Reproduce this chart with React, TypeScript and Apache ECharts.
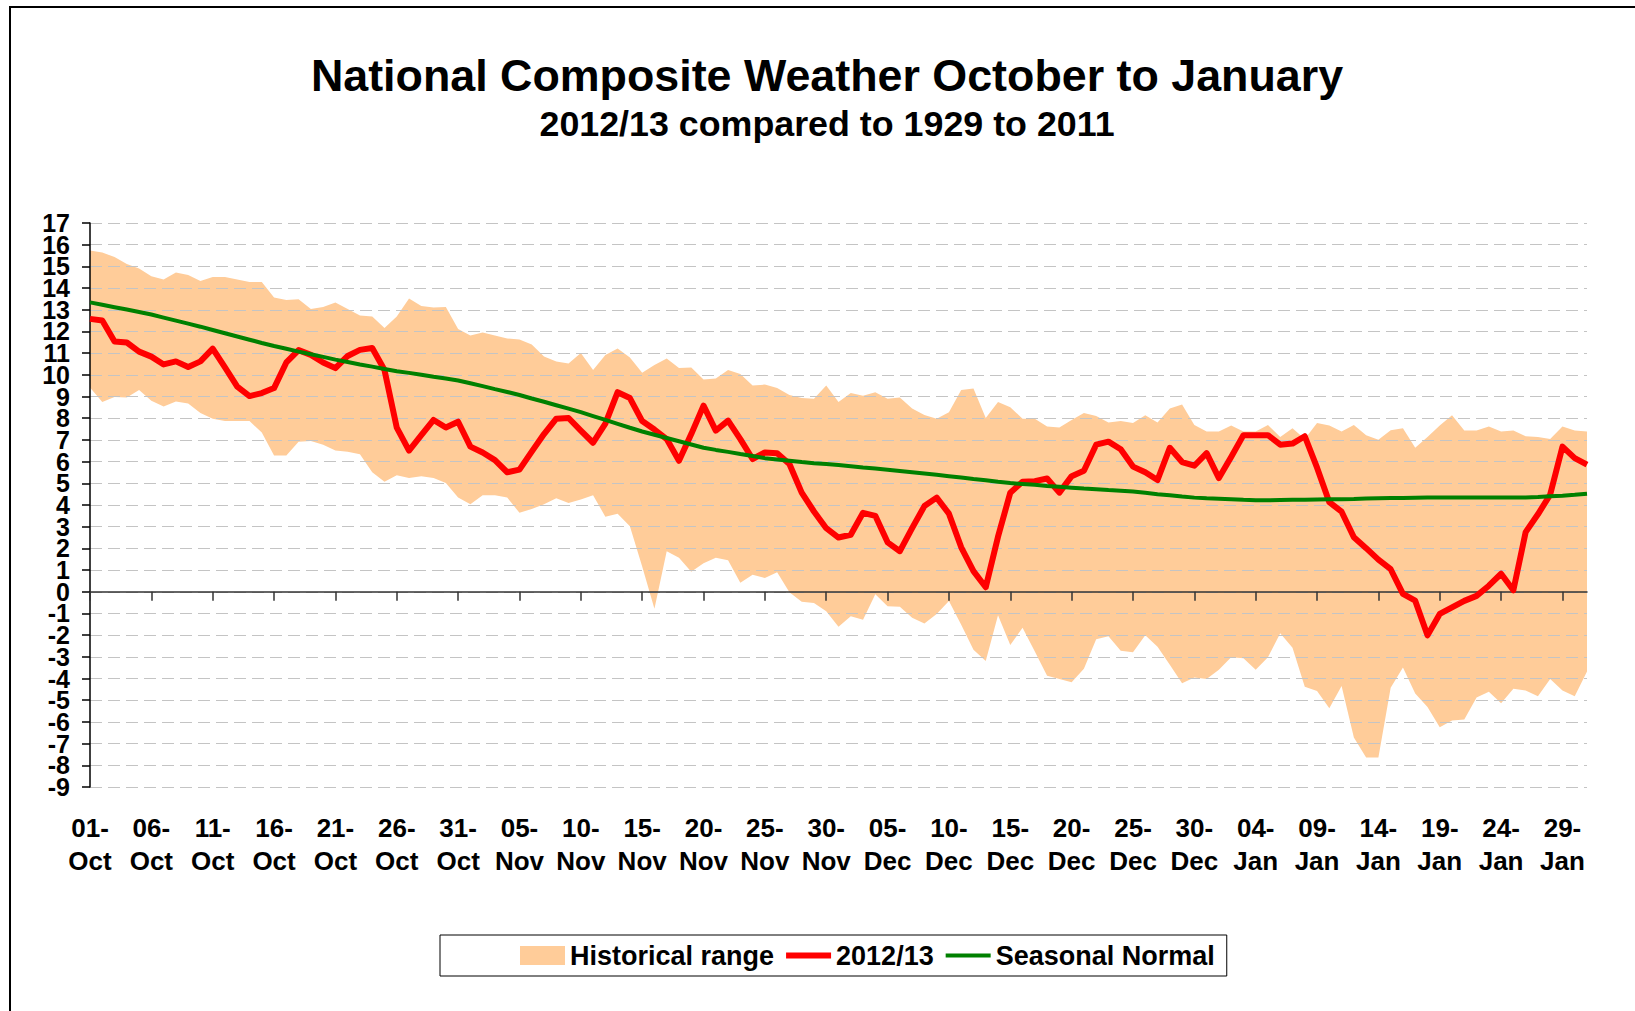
import React, { useEffect, useRef } from 'react';
import * as echarts from 'echarts';

// Category labels: every day from 01-Oct to 31-Jan
const months: [string, number][] = [['Oct', 31], ['Nov', 30], ['Dec', 31], ['Jan', 31]];
const categories: string[] = [];
months.forEach(([m, n]) => {
  for (let d = 1; d <= n; d++) categories.push(`${String(d).padStart(2, '0')}-${m}`);
});

// Y axis range
const yMin = -9;
const yMax = 17;

// Historical range (upper and lower envelope, 1929 to 2011)
const histUpper = [
  15.73, 15.64, 15.43, 15.11, 14.9, 14.54, 14.4, 14.72, 14.6, 14.33,
  14.51, 14.51, 14.4, 14.28, 14.28, 13.57, 13.45, 13.48, 13.04, 13.13,
  13.34, 13.04, 12.74, 12.69, 12.16, 12.69, 13.52, 13.17, 13.1, 13.13,
  12.11, 11.81, 11.95, 11.81, 11.68, 11.63, 11.4, 10.84, 10.62, 10.52,
  11.01, 10.22, 10.92, 11.22, 10.8, 10.1, 10.45, 10.75, 10.31, 10.34,
  9.78, 9.83, 10.22, 10.04, 9.51, 9.55, 9.39, 9.07, 8.93, 8.9,
  9.51, 8.75, 9.16, 9.04, 9.2, 8.9, 8.95, 8.45, 8.15, 7.98,
  8.28, 9.3, 9.37, 8.01, 8.75, 8.51, 7.98, 7.98, 7.62, 7.57,
  7.92, 8.24, 8.1, 7.8, 7.87, 7.78, 8.14, 7.8, 8.45, 8.63,
  7.69, 7.39, 7.39, 7.66, 7.39, 7.39, 7.69, 7.13, 7.54, 7.04,
  7.78, 7.66, 7.39, 7.69, 7.22, 7.01, 7.45, 7.54, 6.64, 7.13,
  7.66, 8.14, 7.43, 7.43, 7.62, 7.39, 7.43, 7.17, 7.13, 7.04,
  7.62, 7.43, 7.39,
];

const histLower = [
  9.42, 8.75, 8.98, 8.95, 9.3, 8.81, 8.54, 8.77, 8.68, 8.24,
  7.98, 7.87, 7.87, 7.87, 7.34, 6.28, 6.28, 6.92, 6.95, 6.78,
  6.51, 6.46, 6.34, 5.51, 5.07, 5.37, 5.24, 5.33, 5.24, 5.01,
  4.34, 4.04, 4.45, 4.45, 4.34, 3.64, 3.81, 4.04, 4.31, 4.09,
  4.25, 4.45, 3.46, 3.6, 3.02, 1.16, -0.78, 1.87, 1.57, 0.92,
  1.31, 1.57, 1.45, 0.42, 0.78, 0.64, 0.9, -0.02, -0.46, -0.52,
  -0.9, -1.61, -1.13, -1.29, -0.11, -0.67, -0.69, -1.2, -1.46, -1.02,
  -0.42, -1.52, -2.67, -3.19, -1.08, -2.45, -1.66, -2.75, -3.87, -4.02,
  -4.17, -3.55, -2.19, -2.05, -2.72, -2.79, -2.01, -2.54, -3.37, -4.22,
  -3.95, -4.02, -3.6, -3.02, -3.07, -3.6, -3.02, -1.91, -2.58, -4.38,
  -4.57, -5.37, -4.34, -6.72, -7.64, -7.64, -4.43, -3.49, -4.69, -5.31,
  -6.25, -5.93, -5.89, -4.87, -4.61, -5.14, -4.47, -4.55, -4.82, -4.02,
  -4.55, -4.82, -3.67,
];

// 2012/13 season
const season2012 = [
  12.58, 12.51, 11.54, 11.49, 11.07, 10.84, 10.48, 10.62, 10.36, 10.62,
  11.21, 10.34, 9.46, 9.02, 9.16, 9.39, 10.57, 11.14, 10.92, 10.57,
  10.31, 10.87, 11.15, 11.24, 10.22, 7.57, 6.51, 7.22, 7.92, 7.57,
  7.84, 6.69, 6.42, 6.07, 5.51, 5.63, 6.46, 7.27, 7.98, 8.01,
  7.43, 6.87, 7.75, 9.2, 8.93, 7.87, 7.48, 7.04, 6.04, 7.27,
  8.58, 7.43, 7.89, 7.04, 6.12, 6.42, 6.39, 5.89, 4.57, 3.7,
  2.93, 2.5, 2.63, 3.64, 3.5, 2.28, 1.87, 2.93, 3.95, 4.34,
  3.6, 2.05, 0.95, 0.21, 2.54, 4.57, 5.07, 5.1, 5.22, 4.57,
  5.33, 5.58, 6.78, 6.92, 6.57, 5.77, 5.51, 5.15, 6.64, 5.98,
  5.81, 6.39, 5.24, 6.21, 7.22, 7.22, 7.22, 6.78, 6.83, 7.17,
  5.72, 4.13, 3.69, 2.51, 2.01, 1.48, 1.04, -0.1, -0.41, -2.01,
  -1.02, -0.72, -0.42, -0.19, 0.28, 0.83, 0.07, 2.75, 3.57, 4.48,
  6.69, 6.16, 5.86,
];

// Seasonal normal
const seasonalNormal = [
  13.34, 13.23, 13.12, 13.01, 12.9, 12.78, 12.64, 12.5, 12.36, 12.22,
  12.07, 11.92, 11.77, 11.62, 11.47, 11.33, 11.2, 11.07, 10.95, 10.83,
  10.7, 10.59, 10.48, 10.38, 10.27, 10.17, 10.09, 10.0, 9.91, 9.83,
  9.74, 9.61, 9.48, 9.34, 9.21, 9.07, 8.91, 8.76, 8.6, 8.44,
  8.28, 8.1, 7.92, 7.74, 7.56, 7.39, 7.24, 7.09, 6.94, 6.79,
  6.64, 6.54, 6.45, 6.35, 6.26, 6.16, 6.1, 6.04, 5.98, 5.93,
  5.89, 5.84, 5.79, 5.73, 5.68, 5.63, 5.57, 5.51, 5.45, 5.39,
  5.33, 5.27, 5.2, 5.14, 5.07, 5.01, 4.97, 4.93, 4.88, 4.84,
  4.8, 4.76, 4.73, 4.69, 4.66, 4.62, 4.56, 4.5, 4.45, 4.39,
  4.34, 4.31, 4.29, 4.27, 4.24, 4.22, 4.22, 4.23, 4.24, 4.24,
  4.25, 4.26, 4.27, 4.28, 4.3, 4.31, 4.32, 4.32, 4.33, 4.34,
  4.34, 4.35, 4.35, 4.35, 4.34, 4.34, 4.34, 4.35, 4.37, 4.4,
  4.43, 4.47, 4.52,
];

const titleText = 'National Composite Weather October to January';
const subtitleText = '2012/13 compared to 1929 to 2011';
const FONT = "'Liberation Sans', Arial, Helvetica, sans-serif";

export default function App() {
  const ref = useRef<HTMLDivElement>(null);

  useEffect(() => {
    if (!ref.current) return;
    const chart = echarts.init(ref.current, undefined, { renderer: 'svg' });
    const bandSpan = histUpper.map((u, i) => +(u - histLower[i]).toFixed(2));

    const yLabelBase = {
      margin: 20,
      fontSize: 25,
      fontWeight: 'bold',
      fontFamily: FONT,
      color: '#000',
      hideOverlap: false,
    };

    const option: any = {
      animation: false,
      backgroundColor: '#ffffff',
      graphic: [
        {
          type: 'rect',
          silent: true,
          shape: { x: 10, y: 7, width: 1700, height: 1100 },
          style: { fill: 'none', stroke: '#000', lineWidth: 2 },
        },
        {
          type: 'text',
          x: 827,
          y: 75,
          style: {
            text: titleText,
            font: `bold 44.8px ${FONT}`,
            fill: '#000',
            textAlign: 'center',
            textVerticalAlign: 'middle',
          },
        },
        {
          type: 'text',
          x: 827,
          y: 124,
          style: {
            text: subtitleText,
            font: `bold 35.8px ${FONT}`,
            fill: '#000',
            textAlign: 'center',
            textVerticalAlign: 'middle',
          },
        },
      ],
      grid: { left: 90, right: 48, top: 223, bottom: 224, containLabel: false },
      legend: {
        left: 440,
        top: 935,
        padding: [7, 12, 7, 80],
        borderColor: '#000',
        borderWidth: 1,
        itemWidth: 45,
        itemHeight: 19,
        itemGap: 12,
        textStyle: { fontSize: 27, fontWeight: 'bold', fontFamily: FONT, color: '#000' },
        data: [
          { name: 'Historical range', icon: 'rect' },
          { name: '2012/13', icon: 'path://M0,0H45V6H0Z' },
          { name: 'Seasonal Normal', icon: 'path://M0,0H45V4H0Z' },
        ],
      },
      xAxis: [
        {
          type: 'category',
          data: categories,
          boundaryGap: false,
          position: 'bottom',
          axisLine: { show: false, onZero: false },
          axisTick: { show: false },
          splitLine: { show: false },
          axisLabel: {
            interval: 4,
            margin: 24,
            fontSize: 26,
            fontWeight: 'bold',
            fontFamily: FONT,
            color: '#000',
            lineHeight: 33,
            formatter: (v: string) => v.replace('-', '-\n'),
          },
        },
        {
          type: 'category',
          data: categories,
          boundaryGap: false,
          position: 'bottom',
          z: 3,
          axisLine: { show: true, onZero: true, lineStyle: { color: '#333', width: 1.5 } },
          axisTick: { show: true, interval: 4, length: 9, lineStyle: { color: '#333', width: 1.5 } },
          axisLabel: { show: false },
          splitLine: { show: false },
        },
      ],
      yAxis: [
        {
          type: 'value',
          min: yMin,
          max: yMax,
          interval: 1,
          z: 3,
          axisLine: { show: true, lineStyle: { color: '#000', width: 1.5 } },
          axisTick: { show: true, length: 8, lineStyle: { color: '#000', width: 1.5 } },
          axisLabel: {
            ...yLabelBase,
            showMinLabel: true,
            showMaxLabel: true,
            // odd steps from the minimum: -9, -7, ..., 17
            formatter: (v: number) => ((v - yMin) % 2 === 0 ? String(v) : ''),
          },
          splitLine: { show: true, lineStyle: { type: [12, 6], color: '#c4c4c4', width: 1 } },
        },
        {
          type: 'value',
          min: yMin,
          max: yMax,
          interval: 1,
          position: 'left',
          axisLine: { show: false },
          axisTick: { show: false },
          splitLine: { show: false },
          axisLabel: {
            ...yLabelBase,
            showMinLabel: false,
            showMaxLabel: false,
            // the remaining labels: -8, -6, ..., 16
            formatter: (v: number) => ((v - yMin) % 2 === 1 ? String(v) : ''),
          },
        },
      ],
      series: [
        {
          name: 'lowerBase',
          type: 'line',
          data: histLower,
          stack: 'band',
          stackStrategy: 'all',
          symbol: 'none',
          silent: true,
          lineStyle: { width: 0, opacity: 0 },
          z: 1,
        },
        {
          name: 'Historical range',
          type: 'line',
          data: bandSpan,
          stack: 'band',
          stackStrategy: 'all',
          symbol: 'none',
          color: '#FFCC99',
          lineStyle: { width: 0, opacity: 0 },
          areaStyle: { color: '#FFCC99', opacity: 1 },
          z: 1,
        },
        {
          name: '2012/13',
          type: 'line',
          data: season2012,
          symbol: 'none',
          color: '#FF0000',
          lineStyle: { color: '#FF0000', width: 6, join: 'round' },
          z: 4,
        },
        {
          name: 'Seasonal Normal',
          type: 'line',
          data: seasonalNormal,
          symbol: 'none',
          color: '#008000',
          lineStyle: { color: '#008000', width: 4 },
          z: 5,
        },
      ],
    };

    chart.setOption(option);
    return () => chart.dispose();
  }, []);

  return (
    <div
      ref={ref}
      style={{ position: 'absolute', left: 0, top: 0, width: '1635px', height: '1011px', background: '#fff' }}
    />
  );
}
